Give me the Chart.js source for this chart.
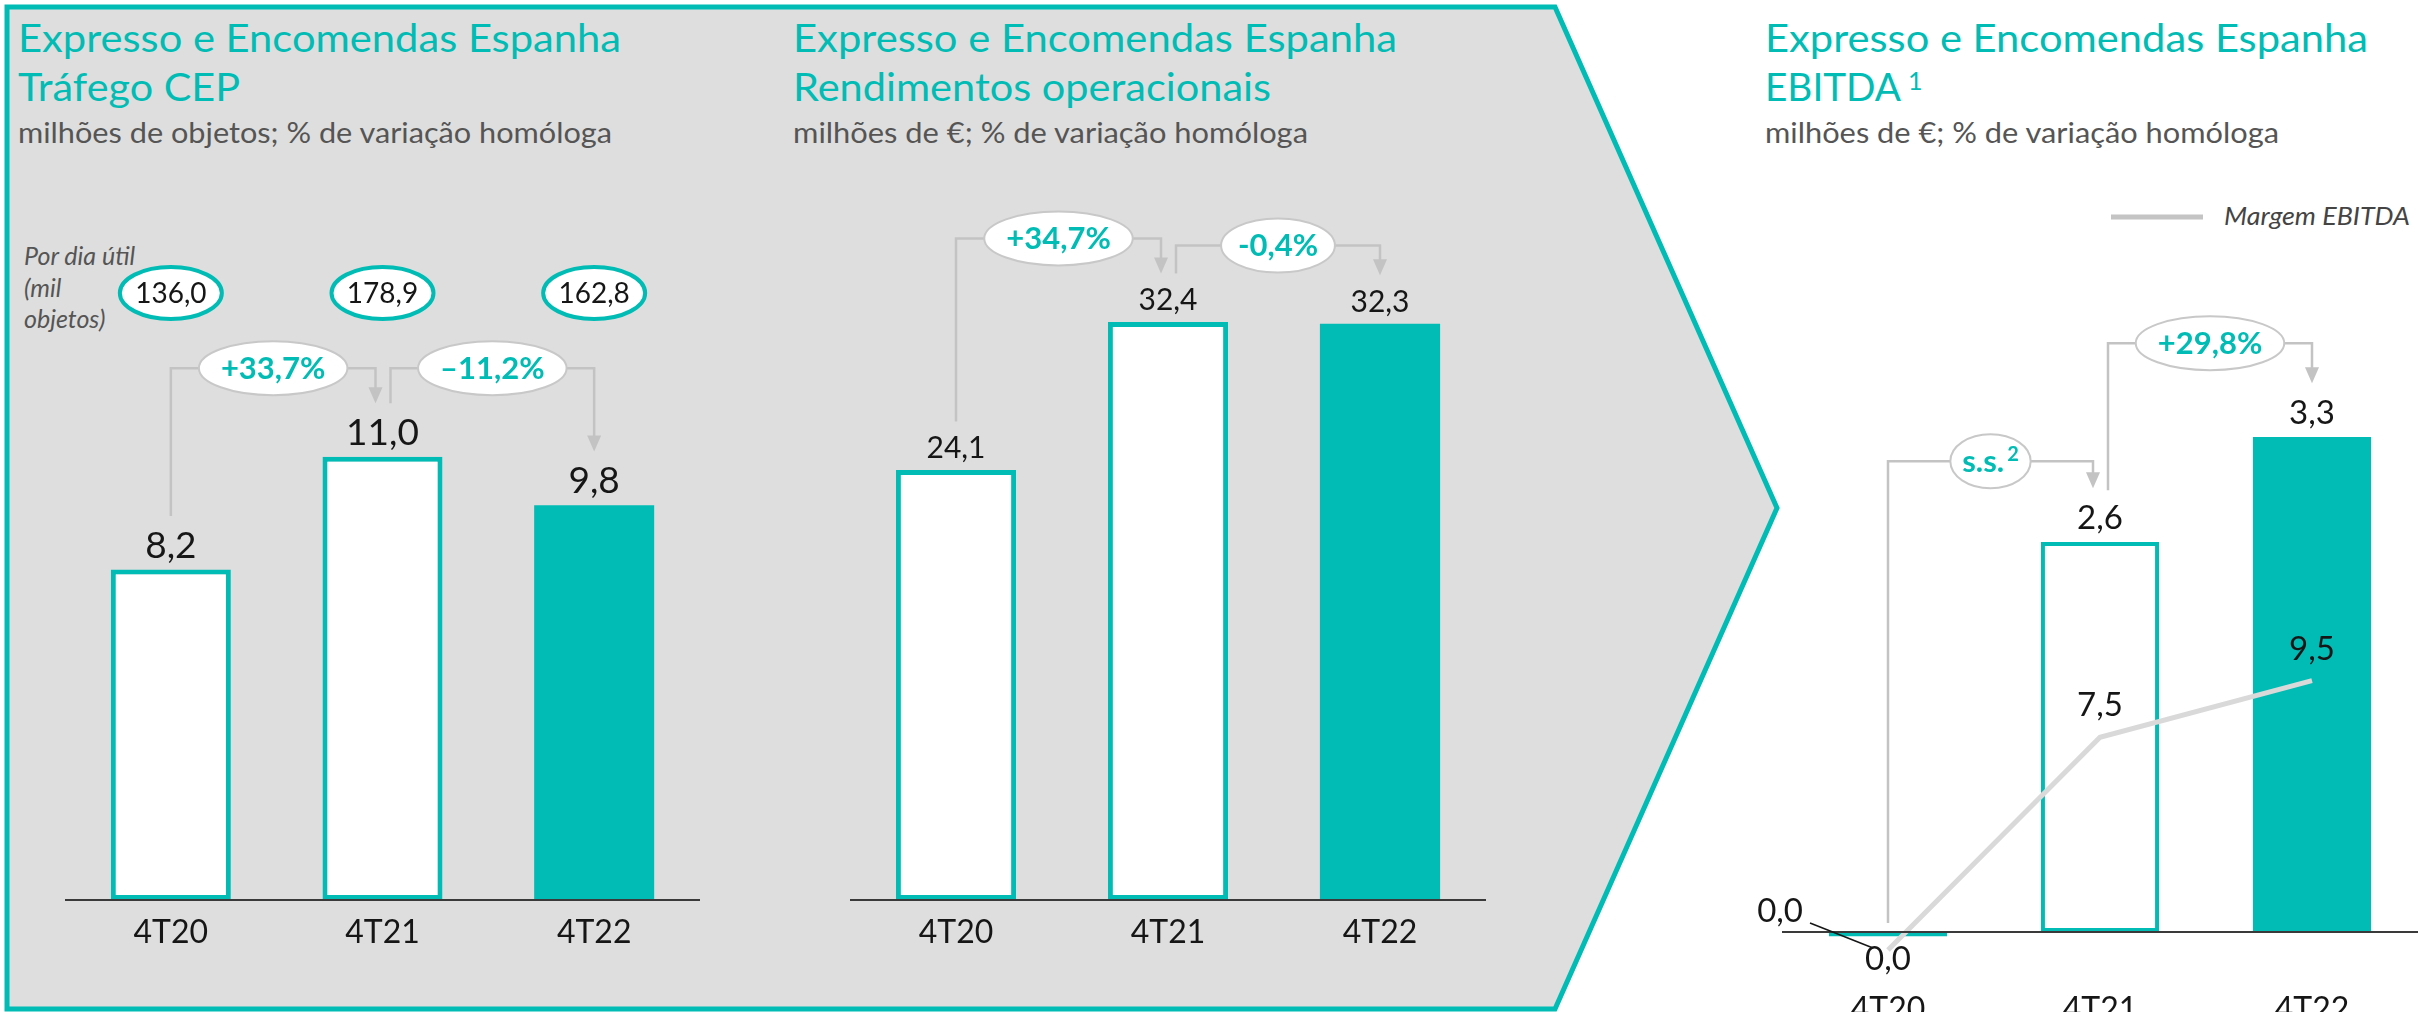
<!DOCTYPE html>
<html lang="pt">
<head>
<meta charset="utf-8">
<title>Expresso e Encomendas Espanha</title>
<script src="https://cdn.jsdelivr.net/npm/chart.js@4.4.1/dist/chart.umd.min.js"></script>
<style>
  html, body { margin: 0; padding: 0; background: #fff; }
  #page { position: relative; width: 2435px; height: 1012px; overflow: hidden; }
  #bg, canvas { position: absolute; top: 0; }
  #bg { left: 0; }
  #c1 { left: 0; }
  #c2 { left: 780px; }
  #c3 { left: 1700px; }
  .t { font-family: Lato, sans-serif; fill: #00BCB4; font-size: 39px; }
  .s { font-family: Lato, sans-serif; fill: #555; font-size: 29px; }
  .i { font-family: Lato, sans-serif; fill: #555; font-size: 25px; font-style: italic; }
</style>
</head>
<body>
<div id="page">
  <svg id="bg" width="2435" height="1012">
    <polygon points="7,7 1555,7 1777,508 1555,1009 7,1009" fill="#DEDEDE" stroke="#00BCB4" stroke-width="5"/>

    <text class="t" x="18" y="52" textLength="603" lengthAdjust="spacingAndGlyphs">Expresso e Encomendas Espanha</text>
    <text class="t" x="18" y="101" textLength="222" lengthAdjust="spacingAndGlyphs">Tráfego CEP</text>
    <text class="s" x="18" y="143" textLength="594" lengthAdjust="spacingAndGlyphs">milhões de objetos; % de variação homóloga</text>
    <text class="i" x="24" y="265">Por dia útil</text>
    <text class="i" x="24" y="297">(mil</text>
    <text class="i" x="24" y="328">objetos)</text>

    <text class="t" x="793" y="52" textLength="604" lengthAdjust="spacingAndGlyphs">Expresso e Encomendas Espanha</text>
    <text class="t" x="793" y="101" textLength="478" lengthAdjust="spacingAndGlyphs">Rendimentos operacionais</text>
    <text class="s" x="793" y="143" textLength="515" lengthAdjust="spacingAndGlyphs">milhões de €; % de variação homóloga</text>

    <text class="t" x="1765" y="52" textLength="603" lengthAdjust="spacingAndGlyphs">Expresso e Encomendas Espanha</text>
    <text class="t" x="1765" y="101" textLength="136" lengthAdjust="spacingAndGlyphs">EBITDA</text>
    <text class="t" x="1908" y="90" style="font-size:25px">1</text>
    <text class="s" x="1765" y="143" textLength="514" lengthAdjust="spacingAndGlyphs">milhões de €; % de variação homóloga</text>

    <line x1="2111" y1="217" x2="2203" y2="217" stroke="#C4C4C4" stroke-width="5"/>
    <text class="i" x="2224" y="225" textLength="186" lengthAdjust="spacingAndGlyphs" style="fill:#444">Margem EBITDA</text>
  </svg>
  <canvas id="c1" width="780" height="1012"></canvas>
  <canvas id="c2" width="780" height="1012"></canvas>
  <canvas id="c3" width="735" height="1012"></canvas>
</div>

<script>
// data
const categories = ['4T20', '4T21', '4T22'];

const trafego = [8.2, 11.0, 9.8];          // milhões de objetos
const trafegoDia = [136.0, 178.9, 162.8];  // mil objetos por dia útil
const trafegoVar = [33.7, -11.2];          // % homóloga

const rendimentos = [24.1, 32.4, 32.3];    // milhões de €
const rendimentosVar = [34.7, -0.4];

const ebitda = [-0.03, 2.6, 3.3];          // milhões de € (4T20 ~ 0,0)
const ebitdaVar = [null, 29.8];            // null = s.s. (sem significado)
const margem = [0.0, 7.5, 9.5];            // margem EBITDA, %

const TEAL = '#00BCB4';
const ARROW = '#C3C3C3';
const INK = '#161616';
const FONT = 'Lato, "Noto Sans", sans-serif';

const fmt = v => (Math.round(v * 10) / 10 + 0).toFixed(1).replace('.', ',');

function text(ctx, s, x, y, size, o = {}) {
    ctx.save();
    ctx.font = `${o.style || 'normal'} ${o.weight || 400} ${size}px ${FONT}`;
    ctx.fillStyle = o.color || INK;
    ctx.textAlign = o.align || 'center';
    ctx.textBaseline = 'alphabetic';
    ctx.fillText(s, x, y);
    ctx.restore();
}

function line(ctx, x1, y1, x2, y2, color, lw) {
    ctx.save();
    ctx.strokeStyle = color;
    ctx.lineWidth = lw;
    ctx.beginPath();
    ctx.moveTo(x1, y1);
    ctx.lineTo(x2, y2);
    ctx.stroke();
    ctx.restore();
}

function oval(ctx, cx, cy, rx, ry, stroke, lw) {
    ctx.save();
    ctx.beginPath();
    ctx.ellipse(cx, cy, rx, ry, 0, 0, Math.PI * 2);
    ctx.fillStyle = '#fff';
    ctx.fill();
    ctx.lineWidth = lw;
    ctx.strokeStyle = stroke;
    ctx.stroke();
    ctx.restore();
}

const growthText = (v, minus) =>
    (v > 0 ? '+' : minus) + Math.abs(v).toFixed(1).replace('.', ',') + '%';

// elbow connector from bar a to bar b, with the % change in an oval
function bracket(ctx, xa, ya, xb, yb, hy, v, minus) {
    ctx.save();
    ctx.strokeStyle = ARROW;
    ctx.fillStyle = ARROW;
    ctx.lineWidth = 2.5;
    ctx.beginPath();
    ctx.moveTo(xa, ya);
    ctx.lineTo(xa, hy);
    ctx.lineTo(xb, hy);
    ctx.lineTo(xb, yb - 14);
    ctx.stroke();
    ctx.beginPath();
    ctx.moveTo(xb - 7, yb - 16);
    ctx.lineTo(xb + 7, yb - 16);
    ctx.lineTo(xb, yb);
    ctx.closePath();
    ctx.fill();

    const cx = (xa + xb) / 2;
    if (v === null) {
        ctx.font = `normal 700 31px ${FONT}`;
        const w1 = ctx.measureText('s.s.').width;
        ctx.font = `normal 700 20px ${FONT}`;
        const w2 = ctx.measureText('2').width;
        const w = w1 + 3 + w2;
        oval(ctx, cx, hy, w * 0.71, 27, '#C8C8C8', 2);
        text(ctx, 's.s.', cx - w / 2, hy + 11, 31, { weight: 700, color: TEAL, align: 'left' });
        text(ctx, '2', cx - w / 2 + w1 + 3, hy, 20, { weight: 700, color: TEAL, align: 'left' });
    } else {
        const s = growthText(v, minus);
        ctx.font = `normal 700 31px ${FONT}`;
        const w = ctx.measureText(s).width;
        oval(ctx, cx, hy, w * 0.71, 27, '#C8C8C8', 2);
        text(ctx, s, cx, hy + 11, 31, { weight: 700, color: TEAL });
    }
    ctx.restore();
}

function annotate(chart, c) {
    const ctx = chart.ctx;
    const area = chart.chartArea;
    const xs = chart.scales.x, ys = chart.scales.y;
    const bars = chart.getDatasetMeta(c.meta).data;
    const y0 = ys.getPixelForValue(0);

    line(ctx, area.left, y0, area.right, y0, '#3A3A3A', 2);
    categories.forEach((cat, i) => text(ctx, cat, xs.getPixelForValue(i), c.catY, 32));

    const cap = c.size * 0.72;
    const tops = c.values.map((v, i) => {
        const b = bars[i];
        if (i === c.aside) {
            text(ctx, fmt(v), b.x - 85, y0 - 10, c.size, { align: 'right' });
            line(ctx, b.x - 78, y0 - 9, b.x - 15, y0 + 16, INK, 1.5);
            return y0 + 6;
        }
        const top = Math.min(b.y, b.base);
        text(ctx, fmt(v), b.x, top - c.gap, c.size);
        return top - c.gap - cap;
    });

    c.growth.forEach((g, k) => {
        const a = bars[k], b = bars[k + 1];
        const xa = a.x + (k > 0 ? 8 : 0);
        const xb = b.x - (k < c.growth.length - 1 ? 7 : 0);
        const hy = Math.min(tops[k], tops[k + 1]) - c.lift[k];
        bracket(ctx, xa, tops[k] - 15, xb, tops[k + 1] - c.tip, hy, g, c.minus);
    });
}

const barSet = (values, bw, pct) => ({
    type: 'bar',
    data: values,
    backgroundColor: ['#fff', '#fff', TEAL],
    borderColor: TEAL,
    borderWidth: [bw, bw, 0],
    borderSkipped: false,
    categoryPercentage: 1,
    barPercentage: pct,
    order: 1
});

const baseOptions = (padding, scales) => ({
    responsive: false,
    animation: false,
    events: [],
    layout: { padding },
    plugins: { legend: { display: false }, tooltip: { enabled: false } },
    scales
});

// Tráfego CEP
new Chart(document.getElementById('c1'), {
    type: 'bar',
    data: { labels: categories, datasets: [barSet(trafego, 5, 0.567)] },
    options: baseOptions({ left: 65, right: 80, top: 240, bottom: 112 }, {
        x: { display: false },
        y: { display: false, min: 0, max: 16.38 }
    }),
    plugins: [{
        id: 'trafegoNotes',
        afterDatasetsDraw(chart) {
            const ctx = chart.ctx;
            chart.getDatasetMeta(0).data.forEach((b, i) => {
                oval(ctx, b.x, 293, 51, 26, TEAL, 4);
                text(ctx, fmt(trafegoDia[i]), b.x, 303, 28);
            });
            annotate(chart, {
                meta: 0, values: trafego, size: 37, gap: 12, catY: 943,
                growth: trafegoVar, minus: '–', lift: [50, 50], tip: 15
            });
        }
    }]
});

// Rendimentos operacionais
new Chart(document.getElementById('c2'), {
    type: 'bar',
    data: { labels: categories, datasets: [barSet(rendimentos, 5, 0.567)] },
    options: baseOptions({ left: 70, right: 74, top: 240, bottom: 112 }, {
        x: { display: false },
        y: { display: false, min: 0, max: 37.0 }
    }),
    plugins: [{
        id: 'rendNotes',
        afterDatasetsDraw(chart) {
            annotate(chart, {
                meta: 0, values: rendimentos, size: 30, gap: 12, catY: 943,
                growth: rendimentosVar, minus: '-', lift: [50, 43], tip: 15
            });
        }
    }]
});

// EBITDA + margem
new Chart(document.getElementById('c3'), {
    type: 'bar',
    data: {
        labels: categories,
        datasets: [
            {
                type: 'line', data: margem, yAxisID: 'y2',
                borderColor: '#D9D9D9', borderWidth: 5, pointRadius: 0,
                tension: 0, order: 0, clip: false
            },
            barSet(ebitda, 4, 0.557)
        ]
    },
    options: baseOptions({ left: 82, right: 17, top: 240, bottom: 12 }, {
        x: { display: false },
        y: { display: false, min: -0.4533, max: 4.613 },
        y2: { display: false, min: -1.764, max: 25.04 }
    }),
    plugins: [{
        id: 'ebitdaNotes',
        afterDatasetsDraw(chart) {
            const ctx = chart.ctx;
            annotate(chart, {
                meta: 1, values: ebitda, size: 33, gap: 13, catY: 1020, aside: 0,
                growth: ebitdaVar, minus: '-', lift: [44, 57], tip: 17
            });
            chart.getDatasetMeta(0).data.forEach((p, i) => {
                const y = i === 0 ? p.y + 20 : p.y - 21;
                text(ctx, fmt(margem[i]), p.x, y, 33);
            });
        }
    }]
});
</script>
</body>
</html>
